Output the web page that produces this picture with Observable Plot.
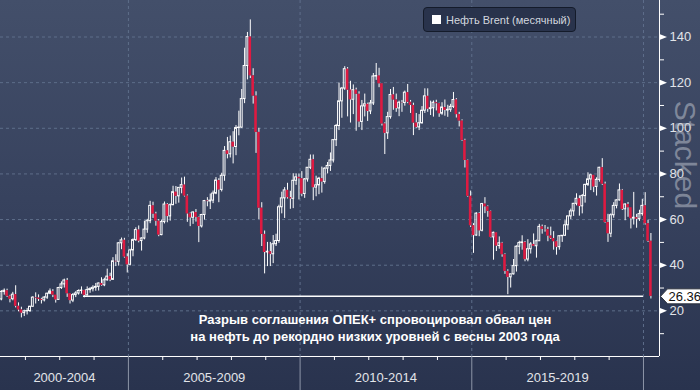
<!DOCTYPE html>
<html><head><meta charset="utf-8">
<script src="https://cdn.jsdelivr.net/npm/d3@7"></script>
<script src="https://cdn.jsdelivr.net/npm/@observablehq/plot@0.6"></script>
<style>
html,body{margin:0;padding:0;background:#2b3550;}
body{width:700px;height:390px;overflow:hidden;}
#wrap{position:relative;width:700px;height:390px;overflow:hidden;background:linear-gradient(180deg,#434f6a 0%,#36415d 55%,#29334e 100%);font-family:"Liberation Sans",Arial,sans-serif;}
#chart svg{display:block;}
.legend{position:absolute;left:423px;top:7px;width:153px;height:25px;box-sizing:border-box;border:1px solid #141b2a;border-radius:4px;background:#29334c;color:#d3d7df;font-size:11px;display:flex;align-items:center;padding-left:8px;white-space:nowrap;}
.legend .sw{width:9px;height:9px;background:#fff;margin-right:5px;flex:none;}
.note{position:absolute;left:175px;width:400px;top:311px;text-align:center;color:#fff;font-weight:bold;font-size:13px;line-height:17px;}
</style></head>
<body>
<div id="wrap"><div id="chart"></div>
<div class="legend"><span class="sw"></span>Нефть Brent (месячный)</div>
<div class="note">Разрыв соглашения ОПЕК+ спровоцировал обвал цен<br>на нефть до рекордно низких уровней с весны 2003 года</div>
</div>
<script>
// Monthly Brent candles, April 2001 ... March 2020 (month index: Jan 2000 = 0)
const startMonth = 15;      // April 2001
const firstOpen = 25.0;
const closes = [
 28.3,28.8,26.4,25.1,27.1,22.0,20.4,19.0,19.8,
 19.9,21.8,25.8,25.6,25.0,24.6,25.8,27.5,28.5,26.9,24.8,30.0,
 31.6,33.3,27.5,24.5,26.9,27.6,28.7,28.9,26.8,29.1,29.5,30.1,
 30.5,32.0,31.2,33.4,35.0,33.6,41.7,41.5,49.6,50.9,43.6,40.2,
 46.5,51.0,55.4,50.6,51.7,55.6,59.3,66.0,62.4,59.3,53.2,58.9,
 66.6,61.4,66.3,72.0,70.2,73.9,75.1,70.3,62.5,60.8,63.1,60.9,
 57.0,62.0,68.1,67.9,68.3,71.4,77.1,73.0,79.2,90.1,88.6,93.9,
 91.8,100.1,100.3,112.8,127.3,140.0,123.0,114.1,98.2,65.0,53.5,45.6,
 45.9,44.8,49.2,50.6,65.4,69.3,72.8,69.6,69.1,77.0,78.5,77.9,
 71.2,77.6,82.7,86.2,74.0,75.0,77.9,76.5,82.3,83.5,85.9,94.8,
 101.0,111.8,117.4,125.9,116.7,112.5,116.7,114.9,102.8,109.6,110.5,107.4,
 110.9,122.7,122.9,119.5,101.9,97.8,104.9,114.6,112.4,108.7,111.2,111.1,
 115.6,111.4,110.0,102.3,100.4,102.2,107.7,114.0,108.4,108.8,111.2,110.8,
 106.4,109.1,107.8,108.1,109.4,112.4,106.0,103.2,94.7,85.9,70.2,57.3,
 53.0,62.6,55.1,66.8,65.6,63.6,52.2,54.2,48.4,49.6,44.6,37.3,
 34.7,36.0,39.6,48.1,49.7,50.0,42.5,47.0,49.1,48.3,50.5,56.8,
 55.7,55.6,52.8,51.7,50.3,47.9,52.7,52.9,57.5,61.4,63.6,66.9,
 69.1,65.8,70.3,75.2,77.6,79.4,74.3,77.4,82.7,75.5,58.7,53.8,
 61.9,66.0,68.4,72.8,64.5,66.6,65.2,60.4,60.8,60.2,62.4,66.0,
 58.2,50.5,26.36];
const highs = [
 28.9,29.6,29.5,26.8,28.1,31.0,23.5,21.6,20.3,
 21.0,22.0,26.2,27.9,27.0,25.5,26.3,27.8,29.6,29.3,26.9,30.3,
 32.7,33.9,34.2,27.6,27.6,28.4,29.2,30.5,29.0,30.5,30.2,31.0,
 32.0,32.2,34.5,34.3,38.3,36.5,43.3,44.6,49.9,51.9,51.8,45.0,
 47.0,51.5,56.4,57.2,52.0,59.3,60.1,68.0,67.6,63.2,60.0,59.8,
 67.7,67.0,66.9,74.6,74.5,74.0,78.2,78.6,70.8,62.9,63.4,64.4,
 61.1,62.3,68.4,69.6,71.2,72.5,78.4,77.9,80.3,92.0,96.0,96.6,
 98.5,101.2,107.5,117.0,135.1,142.0,147.5,126.1,116.0,100.0,67.4,55.0,
 50.0,50.0,53.0,53.6,66.3,72.0,74.0,75.9,72.4,80.1,80.0,80.0,
 81.0,78.0,82.8,88.3,88.3,79.0,78.5,83.0,82.7,85.0,89.2,95.0,
 101.7,119.8,117.9,127.0,126.6,120.6,119.0,117.6,116.0,112.2,115.0,111.0,
 112.2,124.0,128.4,126.3,119.6,102.4,107.0,117.0,117.9,115.0,111.9,112.2,
 116.3,119.2,112.2,111.0,106.5,106.0,109.5,117.3,117.3,111.9,112.0,112.3,
 111.0,111.2,112.4,110.1,110.5,115.7,113.0,107.0,103.7,95.2,86.1,72.5,
 58.2,63.0,63.0,67.1,69.6,66.0,63.8,54.5,54.3,52.4,50.0,45.0,
 38.0,36.1,42.5,48.5,50.5,52.9,50.4,51.2,49.9,53.7,51.0,57.9,
 57.6,57.4,56.6,56.7,54.7,50.5,52.9,53.0,59.5,61.5,64.6,67.1,
 71.3,70.4,71.0,75.5,80.5,79.9,79.4,78.3,82.9,86.7,76.4,62.3,
 62.5,67.4,68.7,75.6,73.2,66.9,67.5,65.2,71.9,62.3,64.1,68.9,
 71.8,59.7,53.9];
const lows = [
 24.4,26.9,25.9,23.5,24.4,21.3,19.6,16.9,17.5,
 18.2,19.3,21.6,23.0,24.1,23.0,23.9,25.0,27.1,25.8,23.4,24.6,
 29.4,30.0,25.9,23.0,23.6,25.8,26.9,27.3,25.7,26.5,27.7,28.3,
 28.6,28.7,30.8,30.6,33.0,32.8,33.3,39.4,39.6,46.8,43.1,36.6,
 39.7,43.7,50.4,49.8,46.2,51.1,54.0,58.2,60.5,57.1,52.5,52.9,
 58.1,58.6,59.3,66.1,66.7,67.2,71.3,69.9,58.8,56.9,57.9,58.9,
 49.9,56.3,59.8,65.6,64.4,67.0,70.9,67.4,72.1,76.8,86.6,87.0,
 84.4,88.0,96.7,100.0,110.8,121.2,121.8,110.6,89.0,60.0,48.2,36.2,
 39.4,39.4,40.7,48.2,49.6,62.5,60.5,69.0,64.5,64.8,75.0,68.6,
 70.0,69.3,76.4,81.9,68.3,70.0,70.9,71.6,75.5,80.0,81.1,84.8,
 92.0,99.0,104.4,116.6,105.0,102.3,106.0,98.7,100.3,99.0,105.0,103.0,
 106.0,110.0,121.0,117.8,101.0,88.5,95.1,104.0,107.9,107.0,105.1,107.0,
 109.7,110.8,106.5,96.8,100.0,99.0,101.8,106.5,107.0,105.6,104.9,107.6,
 104.8,105.7,105.3,104.8,107.0,108.7,104.5,100.6,94.3,82.6,69.8,56.5,
 45.2,52.7,52.5,54.6,62.6,61.0,52.0,42.2,46.0,47.0,43.5,36.0,
 27.1,30.0,35.7,37.0,44.6,46.6,41.5,41.5,44.9,48.2,43.1,50.5,
 53.6,54.5,50.3,51.3,46.6,44.4,46.6,50.0,52.7,55.3,60.0,61.4,
 66.0,61.5,62.5,67.2,74.5,72.7,71.8,70.3,76.4,75.0,58.4,50.0,
 52.1,60.6,64.7,68.1,64.0,59.5,61.0,55.9,57.6,56.2,59.2,61.5,
 57.6,50.0,25.2];

const periodLabels = ["2000-2004","2005-2009","2010-2014","2015-2019"];
const periodStarts = [0, 60, 120, 180];   // month index of Jan 2000, 2005, 2010, 2015
const periodEnds   = [60, 120, 180, 240];
const yearTicks = [24,36,48,72,84,96,108,132,144,156,168,192,204,216,228];
const majorY = [20,40,60,80,100,120,140];
const minorY = [10,30,50,70,90,110,130,150];
const xDomain = [15.3, 245.6];
const yDomain = [0, 156];
const lastClose = closes[closes.length - 1];
const lineFromMonth = 44.3;
const lineToMonth = 240;

// open of each month = previous month's close
const candles = closes.map((c, i) => ({
  m: startMonth + i + 0.6,
  o: i ? closes[i - 1] : firstOpen,
  c, h: highs[i], l: lows[i]
}));
const up = candles.filter(d => d.c >= d.o);
const down = candles.filter(d => d.c < d.o);
const xMax = xDomain[1];
const periods = periodLabels.map((label, i) => ({
  label, mid: (Math.max(periodStarts[i], xDomain[0]) + periodEnds[i]) / 2
}));

const triRight = {draw(ctx) { ctx.moveTo(0.5, -2.8); ctx.lineTo(7.5, 0); ctx.lineTo(0.5, 2.8); ctx.closePath(); }};
const tagShape = {draw(ctx) { ctx.moveTo(1, 0); ctx.lineTo(8, -7.5); ctx.lineTo(48, -7.5); ctx.lineTo(48, 7.5); ctx.lineTo(8, 7.5); ctx.closePath(); }};
const gridColor = "#5e6e8a";

const plot = Plot.plot({
  width: 700, height: 390,
  marginLeft: 0, marginRight: 41, marginTop: 0, marginBottom: 34,
  x: {type: "linear", domain: xDomain},
  y: {domain: yDomain},
  style: {background: "transparent", fontFamily: "'Liberation Sans', Arial, sans-serif", fontSize: "13px", color: "#dfe2e8", overflow: "visible"},
  marks: [
    Plot.ruleY(majorY, {stroke: gridColor, strokeDasharray: "3,3"}),
    Plot.ruleX(periodEnds, {stroke: gridColor, strokeDasharray: "3,3"}),
    Plot.ruleX(candles, {x: "m", y1: "l", y2: d => Math.min(d.o, d.c), stroke: "#fff", strokeWidth: 1}),
    Plot.ruleX(candles, {x: "m", y1: d => Math.max(d.o, d.c), y2: "h", stroke: "#fff", strokeWidth: 1}),
    Plot.rect(up, {x1: d => d.m - 0.33, x2: d => d.m + 0.33, y1: "o", y2: "c", fill: "none", stroke: "#fff", strokeWidth: 1}),
    Plot.rect(down, {x1: d => d.m - 0.45, x2: d => d.m + 0.45, y1: "o", y2: "c", fill: "#de1a41"}),
    Plot.ruleY([lastClose], {x1: lineFromMonth, x2: lineToMonth, stroke: "#fff", strokeWidth: 1.5}),
    Plot.ruleY([0], {stroke: "#fff"}),
    Plot.ruleX([xMax], {stroke: "#fff"}),
    Plot.axisY(majorY, {anchor: "right", tickSize: 0, tickPadding: 10, fontSize: 13, fill: "#e2e4e9", label: null}),
    Plot.axisY(minorY, {anchor: "right", tickSize: 4, tickFormat: () => "", stroke: "#fff", label: null}),
    Plot.dot(majorY, {x: () => xMax, y: d => d, symbol: triRight, r: 3, fill: "#fff", stroke: null}),
    Plot.axisX(yearTicks, {tickSize: 4, tickFormat: () => "", stroke: "#fff", label: null}),
    Plot.axisX(periodEnds, {tickSize: 34, tickFormat: () => "", stroke: "#8d96a8", label: null}),
    Plot.text(periods, {x: "mid", frameAnchor: "bottom", dy: 25, text: "label", fill: "#e2e4e9", fontSize: 13}),
    Plot.dot([lastClose], {x: () => xMax, y: d => d, symbol: tagShape, r: 3, fill: "#fff", stroke: "#2a2f3a", strokeWidth: 1}),
    Plot.text([lastClose], {x: () => xMax, y: d => d, text: d => d.toFixed(2), dx: 9, textAnchor: "start", fill: "#111", fontSize: 13})
  ]
});
document.getElementById("chart").appendChild(plot);

d3.select(plot).append("text")
  .attr("transform", "translate(685,155) rotate(90)")
  .attr("text-anchor", "middle")
  .attr("dominant-baseline", "central")
  .attr("font-family", "'Liberation Sans', Arial, sans-serif")
  .attr("font-size", 30)
  .attr("fill", "#c3c8d2")
  .attr("fill-opacity", 0.5)
  .text("Stacked");
</script>
</body></html>
